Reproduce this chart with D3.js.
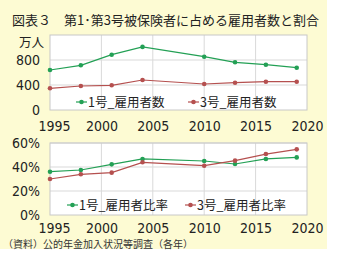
<!DOCTYPE html>
<html>
<head>
<meta charset="utf-8">
<script src="https://cdn.jsdelivr.net/npm/d3@7"></script>
<style>
  body { margin: 0; background: #fff; }
  svg { display: block; font-family: "Noto Sans CJK JP", "Noto Sans", sans-serif; }
</style>
</head>
<body>
<div id="chart"></div>
<script>
// data
var years = [1995, 1998, 2001, 2004, 2010, 2013, 2016, 2019];
var no1Count = [640, 715, 885, 1010, 853, 763, 725, 677];
var no3Count = [347, 384, 395, 480, 416, 437, 453, 453];
var no1Rate = [36.1, 37.5, 42.2, 46.7, 45.0, 42.5, 46.7, 48.0];
var no3Rate = [30.0, 33.9, 35.3, 43.9, 41.1, 45.3, 50.8, 54.7];
var xTicks = [1995, 2000, 2005, 2010, 2015, 2020];
var countTicks = [0, 400, 800];
var rateTicks = [0, 20, 40, 60];

var svgWidth = 337, svgHeight = 258;
var green = "#23a055", red = "#b5504f";
var numFont = "'Liberation Sans Narrow', 'DejaVu Sans Condensed', sans-serif";

var svg = d3.select("#chart").append("svg")
    .attr("width", svgWidth)
    .attr("height", svgHeight);

svg.append("rect")
    .attr("width", 327).attr("height", 249)
    .attr("fill", "#fdfbd3");

svg.append("text")
    .attr("x", 12).attr("y", 25)
    .attr("font-size", 13)
    .attr("fill", "#222")
    .text("図表３　第1･第3号被保険者に占める雇用者数と割合");

var x = d3.scaleLinear().domain([1995, 2020]).range([50, 307]);

function panel(opts) {
  var y = d3.scaleLinear().domain(opts.domain).range([opts.bottom, opts.top]);
  var g = svg.append("g");

  g.append("rect")
    .attr("x", x(1995)).attr("y", opts.top)
    .attr("width", x(2020) - x(1995)).attr("height", opts.bottom - opts.top)
    .attr("fill", "#fff");

  // grid
  g.selectAll(".vg").data(xTicks.slice(1, -1)).enter().append("line")
    .attr("x1", d => x(d)).attr("x2", d => x(d))
    .attr("y1", opts.top).attr("y2", opts.bottom)
    .attr("stroke", "#d9d9d9");
  g.selectAll(".hg").data(opts.ticks.slice(1)).enter().append("line")
    .attr("x1", x(1995)).attr("x2", x(2020))
    .attr("y1", d => y(d)).attr("y2", d => y(d))
    .attr("stroke", "#d9d9d9");

  g.append("rect")
    .attr("x", x(1995)).attr("y", opts.top)
    .attr("width", x(2020) - x(1995)).attr("height", opts.bottom - opts.top)
    .attr("fill", "none").attr("stroke", "#c8c8c8");

  var yAxis = d3.axisLeft(y).tickValues(opts.ticks).tickSize(0).tickPadding(10)
    .tickFormat(opts.fmt);
  var ya = g.append("g").attr("transform", `translate(${x(1995)},0)`).call(yAxis);
  ya.select(".domain").remove();
  ya.selectAll("text").attr("font-size", 14).attr("fill", "#222")
    .attr("font-family", numFont);

  var xAxis = d3.axisBottom(x).tickValues(xTicks).tickSize(0).tickPadding(opts.xPad)
    .tickFormat(d3.format("d"));
  var xa = g.append("g").attr("transform", `translate(0,${opts.bottom})`).call(xAxis);
  xa.select(".domain").remove();
  xa.selectAll("text").attr("font-size", 14).attr("fill", "#222")
    .attr("font-family", numFont)
    .attr("dx", d => d === 1995 ? 4 : 0);

  var line = d3.line().x((d, i) => x(years[i])).y(d => y(d));
  opts.series.forEach(function(s) {
    g.append("path").datum(s.values)
      .attr("d", line)
      .attr("fill", "none").attr("stroke", s.color).attr("stroke-width", 1.2);
    g.selectAll(null).data(s.values).enter().append("circle")
      .attr("cx", (d, i) => x(years[i])).attr("cy", d => y(d))
      .attr("r", 2.3).attr("fill", s.color);

    g.append("line")
      .attr("x1", s.lx).attr("x2", s.lx + 11)
      .attr("y1", opts.legendY).attr("y2", opts.legendY)
      .attr("stroke", s.color).attr("stroke-width", 1.2);
    g.append("circle").attr("cx", s.lx + 5.5).attr("cy", opts.legendY)
      .attr("r", 2.3).attr("fill", s.color);
    g.append("text")
      .attr("x", s.lx + 12).attr("y", opts.legendY + 5)
      .attr("font-size", 12.5).attr("fill", "#222")
      .text(s.name);
  });

  return y;
}

panel({
  top: 35, bottom: 110, domain: [0, 1200], ticks: countTicks,
  fmt: d3.format("d"), legendY: 102, xPad: 11,
  series: [
    { name: "1号_雇用者数", values: no1Count, color: green, lx: 76 },
    { name: "3号_雇用者数", values: no3Count, color: red, lx: 188 }
  ]
});

svg.append("text")
  .attr("x", 44).attr("y", 47)
  .attr("text-anchor", "end")
  .attr("font-size", 12.5).attr("fill", "#222")
  .text("万人");

panel({
  top: 143, bottom: 215, domain: [0, 60], ticks: rateTicks,
  fmt: d => d + "%", legendY: 205, xPad: 8,
  series: [
    { name: "1号_雇用者比率", values: no1Rate, color: green, lx: 67 },
    { name: "3号_雇用者比率", values: no3Rate, color: red, lx: 185 }
  ]
});

svg.append("text")
  .attr("x", 3).attr("y", 248)
  .attr("font-size", 10).attr("fill", "#333")
  .text("（資料）公的年金加入状況等調査（各年）");
</script>
</body>
</html>
